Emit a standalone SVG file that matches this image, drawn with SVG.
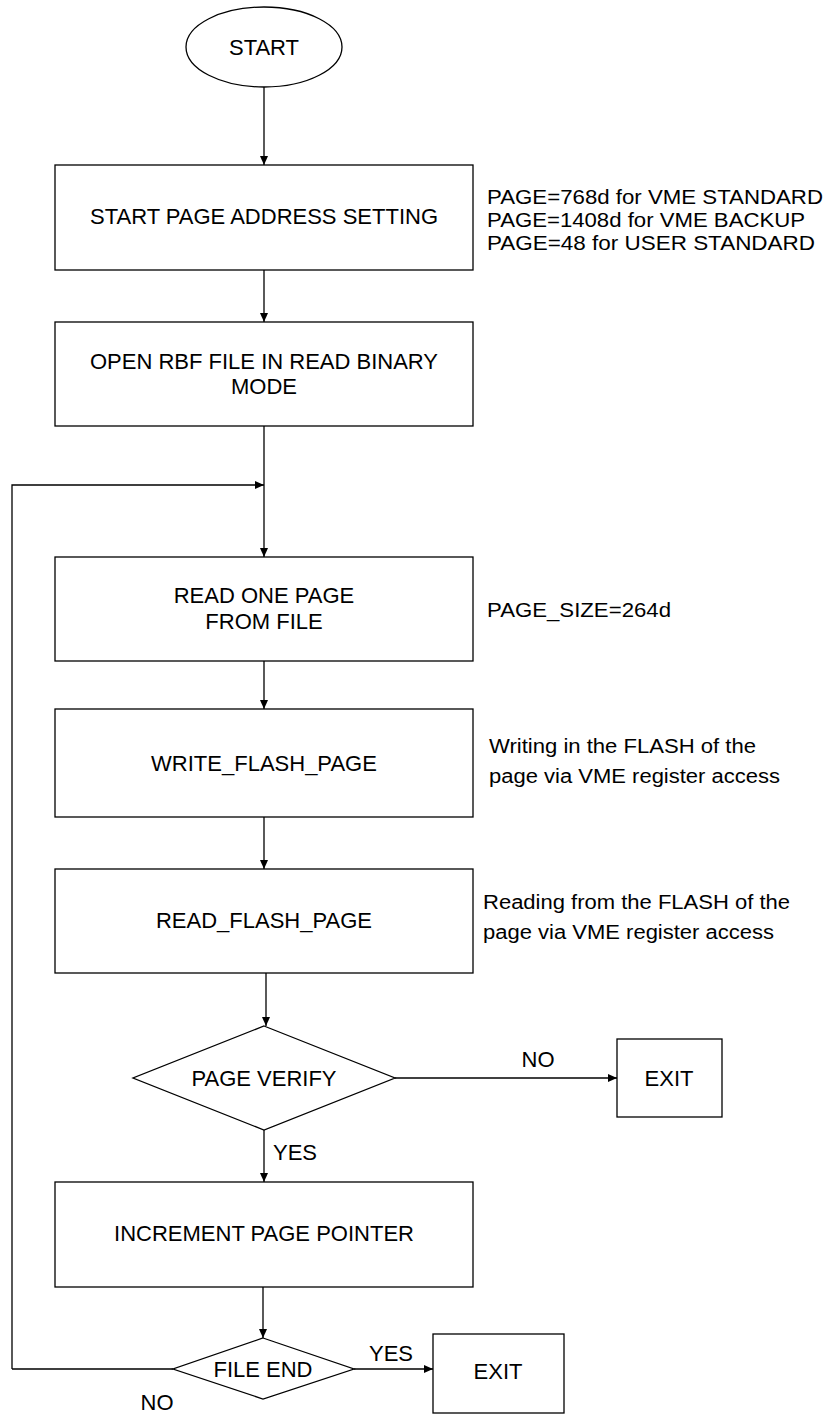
<svg xmlns="http://www.w3.org/2000/svg" width="824" height="1414" viewBox="0 0 824 1414">
<defs>
<style>
.shape{fill:#fff;stroke:#000;stroke-width:1.3}
.line{fill:none;stroke:#000;stroke-width:1.3}
text{font-family:"Liberation Sans",Arial,sans-serif;font-size:22px;fill:#000}
.c{text-anchor:middle}
.note{font-size:20px}
</style>
<marker id="arr" markerUnits="userSpaceOnUse" markerWidth="10" markerHeight="10" refX="9" refY="5" orient="auto">
<path d="M0,1 L9,5 L0,9 Z" fill="#000"/>
</marker>
</defs>
<rect width="824" height="1414" fill="#fff"/>
<g id="connectors">
<path class="line" d="M264,87 V165" marker-end="url(#arr)"/>
<path class="line" d="M264,270 V322" marker-end="url(#arr)"/>
<path class="line" d="M264,426 V557" marker-end="url(#arr)"/>
<path class="line" d="M12,1369 H173 M12,1369 V485 H264" marker-end="url(#arr)"/>
<path class="line" d="M264,661 V709" marker-end="url(#arr)"/>
<path class="line" d="M264,817 V869" marker-end="url(#arr)"/>
<path class="line" d="M266,973 V1026" marker-end="url(#arr)"/>
<path class="line" d="M395,1078 H617" marker-end="url(#arr)"/>
<path class="line" d="M264,1130 V1182" marker-end="url(#arr)"/>
<path class="line" d="M263,1287 V1338" marker-end="url(#arr)"/>
<path class="line" d="M354,1369 H433" marker-end="url(#arr)"/>
<text class="c" x="538" y="1067">NO</text>
<text x="273" y="1160">YES</text>
<text class="c" x="391" y="1361">YES</text>
<text class="c" x="157" y="1410">NO</text>
</g>
<g id="start">
<ellipse class="shape" cx="264" cy="47" rx="78" ry="40"/>
<text class="c" x="264" y="55">START</text>
</g>
<g id="page-address">
<rect class="shape" x="55" y="165" width="418" height="105"/>
<text class="c" x="264" y="224">START PAGE ADDRESS SETTING</text>
</g>
<g id="note-page">
<text class="note" x="487" y="204" textLength="336" lengthAdjust="spacingAndGlyphs">PAGE=768d for VME STANDARD</text>
<text class="note" x="487" y="227" textLength="318" lengthAdjust="spacingAndGlyphs">PAGE=1408d for VME BACKUP</text>
<text class="note" x="487" y="250" textLength="328" lengthAdjust="spacingAndGlyphs">PAGE=48 for USER STANDARD</text>
</g>
<g id="open-file">
<rect class="shape" x="55" y="322" width="418" height="104"/>
<text class="c" x="264" y="369">OPEN RBF FILE IN READ BINARY</text>
<text class="c" x="264" y="394">MODE</text>
</g>
<g id="read-page">
<rect class="shape" x="55" y="557" width="418" height="104"/>
<text class="c" x="264" y="603">READ ONE PAGE</text>
<text class="c" x="264" y="629">FROM FILE</text>
</g>
<g id="note-size">
<text class="note" x="487" y="617" textLength="184" lengthAdjust="spacingAndGlyphs">PAGE_SIZE=264d</text>
</g>
<g id="write-flash">
<rect class="shape" x="55" y="709" width="418" height="108"/>
<text class="c" x="264" y="771">WRITE_FLASH_PAGE</text>
</g>
<g id="note-write">
<text class="note" x="489" y="753" textLength="267" lengthAdjust="spacingAndGlyphs">Writing in the FLASH of the</text>
<text class="note" x="489" y="783" textLength="291" lengthAdjust="spacingAndGlyphs">page via VME register access</text>
</g>
<g id="read-flash">
<rect class="shape" x="55" y="869" width="418" height="104"/>
<text class="c" x="264" y="928">READ_FLASH_PAGE</text>
</g>
<g id="note-read">
<text class="note" x="483" y="909" textLength="307" lengthAdjust="spacingAndGlyphs">Reading from the FLASH of the</text>
<text class="note" x="483" y="939" textLength="291" lengthAdjust="spacingAndGlyphs">page via VME register access</text>
</g>
<g id="page-verify">
<polygon class="shape" points="264,1026 395,1078 264,1130 133,1078"/>
<text class="c" x="264" y="1086">PAGE VERIFY</text>
</g>
<g id="exit-1">
<rect class="shape" x="617" y="1039" width="105" height="78"/>
<text class="c" x="669" y="1086">EXIT</text>
</g>
<g id="increment">
<rect class="shape" x="55" y="1182" width="418" height="105"/>
<text class="c" x="264" y="1241">INCREMENT PAGE POINTER</text>
</g>
<g id="file-end">
<polygon class="shape" points="263,1338 354,1369 263,1399 173,1369"/>
<text class="c" x="263" y="1377">FILE END</text>
</g>
<g id="exit-2">
<rect class="shape" x="433" y="1334" width="131" height="79"/>
<text class="c" x="498" y="1379">EXIT</text>
</g>
</svg>
